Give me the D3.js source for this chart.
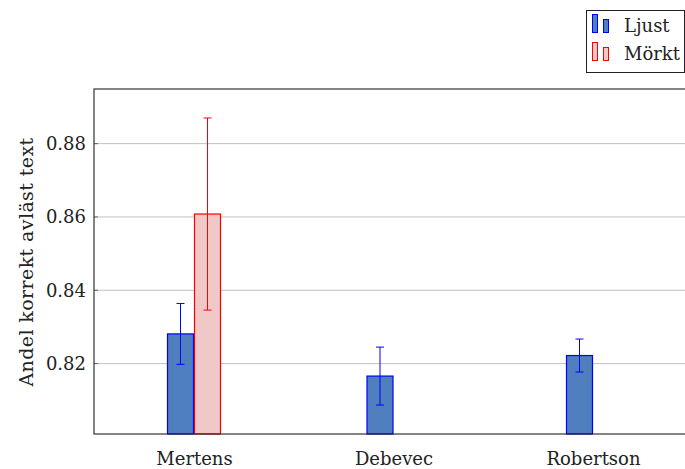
<!DOCTYPE html>
<html>
<head>
<meta charset="utf-8">
<script src="https://cdn.jsdelivr.net/npm/d3@7"></script>
<style>
  body { margin: 0; background: #fff; }
  text { font-family: "DejaVu Serif", "Liberation Serif", serif; }
</style>
</head>
<body>
<svg id="chart" width="685" height="469"></svg>
<script>
// data
let categories = ["Mertens", "Debevec", "Robertson"];
let seriesNames = ["Ljust", "Mörkt"];
let ljust = [0.8281, 0.8166, 0.8222];
let ljustErr = [0.0083, 0.0079, 0.0045];
let morkt = [0.8608, null, null];
let morktErr = [0.0262, null, null];
let yTicks = [0.82, 0.84, 0.86, 0.88];

let svg = d3.select("#chart");

let plotLeft = 94, plotRight = 694, plotTop = 89, plotBottom = 434;
let fs = 18;

// Scales:
let y = d3.scaleLinear()
  .domain([0.8008, 0.8949])
  .range([plotBottom, plotTop]);

let x = d3.scalePoint()
  .domain(categories)
  .range([194, 593]);

let barW = 27;

// grid
svg.append("g")
  .selectAll("line")
  .data(yTicks)
  .join("line")
  .attr("x1", plotLeft).attr("x2", plotRight)
  .attr("y1", d => y(d)).attr("y2", d => y(d))
  .attr("stroke", "#c0c0c0")
  .attr("stroke-width", 1);

// bars
let series = [
  { name: seriesNames[0], vals: ljust, errs: ljustErr, fill: "#4f7fbe", stroke: "#0000ff", dx: -barW },
  { name: seriesNames[1], vals: morkt, errs: morktErr, fill: "#f0c8c8", stroke: "#ff0000", dx: 0 }
];

series.forEach(s => {
  let rows = categories.map((c, i) => ({ c: c, v: s.vals[i], e: s.errs[i] }))
    .filter(d => d.v != null);

  svg.append("g")
    .selectAll("rect")
    .data(rows)
    .join("rect")
    .attr("x", d => x(d.c) + s.dx + 0.5)
    .attr("y", d => y(d.v))
    .attr("width", barW - 1)
    .attr("height", d => plotBottom - y(d.v))
    .attr("fill", s.fill)
    .attr("stroke", s.stroke)
    .attr("stroke-width", 1.2);

  // error bars
  let eb = svg.append("g")
    .attr("stroke", s.stroke)
    .attr("stroke-width", 1);
  let cx = d => x(d.c) + s.dx + barW / 2;
  eb.selectAll(".v").data(rows).join("line")
    .attr("x1", cx).attr("x2", cx)
    .attr("y1", d => y(d.v - d.e)).attr("y2", d => y(d.v + d.e));
  [1, -1].forEach(sign => {
    eb.selectAll(".c" + sign).data(rows).join("line")
      .attr("x1", d => cx(d) - 4).attr("x2", d => cx(d) + 4)
      .attr("y1", d => y(d.v + sign * d.e)).attr("y2", d => y(d.v + sign * d.e));
  });
});

// Axes:
let yAxis = d3.axisLeft(y).tickValues(yTicks).tickFormat(d3.format(".2f")).tickSize(0).tickPadding(8);
let xAxis = d3.axisBottom(x).tickSize(0).tickPadding(18);

let gy = svg.append("g")
  .attr("transform", `translate(${plotLeft}, 0)`)
  .call(yAxis);
gy.select(".domain").remove();
gy.selectAll("text").attr("font-size", fs).attr("fill", "#222");

let gx = svg.append("g")
  .attr("transform", `translate(0, ${plotBottom})`)
  .call(xAxis);
gx.select(".domain").remove();
gx.selectAll("text").attr("font-size", fs).attr("fill", "#222");
gx.attr("font-family", null);
gy.attr("font-family", null);

// small tick marks on y
svg.append("g").selectAll("line").data(yTicks).join("line")
  .attr("x1", plotLeft).attr("x2", plotLeft + 4)
  .attr("y1", d => y(d)).attr("y2", d => y(d))
  .attr("stroke", "#666");

// frame
svg.append("rect")
  .attr("x", plotLeft).attr("y", plotTop)
  .attr("width", plotRight - plotLeft).attr("height", plotBottom - plotTop)
  .attr("fill", "none")
  .attr("stroke", "#222")
  .attr("stroke-width", 1.1);

// y label
svg.append("text")
  .attr("transform", "translate(33, 262) rotate(-90)")
  .attr("text-anchor", "middle")
  .attr("font-size", 19)
  .attr("letter-spacing", 0.4)
  .attr("fill", "#222")
  .text("Andel korrekt avläst text");

// legend
let lg = svg.append("g").attr("transform", "translate(586, 10)");
lg.append("rect")
  .attr("x", 0.5).attr("y", 0.5)
  .attr("width", 98).attr("height", 62)
  .attr("fill", "#fff").attr("stroke", "#222");

series.forEach((s, i) => {
  let row = lg.append("g").attr("transform", `translate(0, ${i * 28})`);
  row.append("rect").attr("x", 6.5).attr("y", 4.5).attr("width", 5).attr("height", 18)
    .attr("fill", s.fill).attr("stroke", s.stroke);
  row.append("rect").attr("x", 17.5).attr("y", 9.5).attr("width", 5).attr("height", 13)
    .attr("fill", s.fill).attr("stroke", s.stroke);
  row.append("text").attr("x", 38).attr("y", 22)
    .attr("font-size", fs).attr("fill", "#222")
    .text(s.name);
});
</script>
</body>
</html>
